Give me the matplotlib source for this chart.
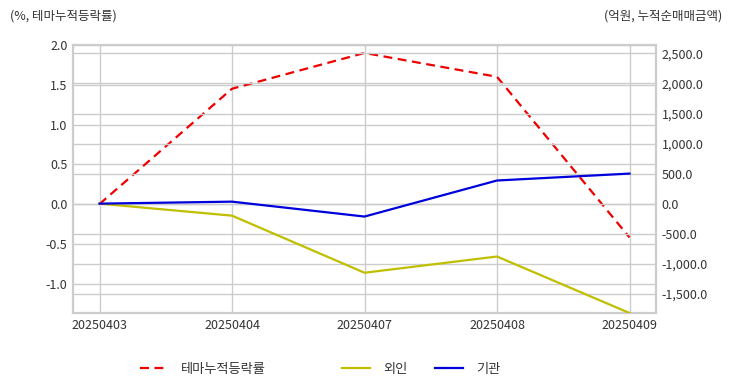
import matplotlib.pyplot as plt
import numpy as np

plt.rcParams['font.family'] = ['Noto Sans CJK KR', 'DejaVu Sans']

dates = ['20250403', '20250404', '20250407', '20250408', '20250409']
theme_pct = [0.0, 1.45, 1.90, 1.60, -0.42]
foreign = [0.0, -200.0, -1150.0, -880.0, -1820.0]
institution = [0.0, 33.0, -215.0, 385.0, 500.0]

left_ticks = [-1.0, -0.5, 0.0, 0.5, 1.0, 1.5, 2.0]
right_ticks = [-1500, -1000, -500, 0, 500, 1000, 1500, 2000, 2500]

grid_c = '#cccccc'
text_c = '#333333'

fig = plt.figure(figsize=(7.32, 3.92), dpi=100)
ax = fig.add_axes([73/732, 1-313/392, (656-73)/732, (313-45)/392])
ax2 = ax.twinx()

x = np.arange(len(dates))
l1, = ax.plot(x, theme_pct, color='#ee0000', lw=1.6, ls=(0, (4, 2.5)), label='테마누적등락률', zorder=3)
l2, = ax2.plot(x, foreign, color='#bfbf00', lw=1.6, label='외인', zorder=3)
l3, = ax2.plot(x, institution, color='#0000dd', lw=1.6, label='기관', zorder=3)

ax.set_xlim(-0.2, 4.2)
ax.set_ylim(-1.37, 2.0)
ax2.set_ylim(-1820, 2640)
ax.set_xticks(x)
ax.set_xticklabels(dates)
ax.set_yticks(left_ticks)
ax.set_yticklabels([f'{v:.1f}' for v in left_ticks])
ax2.set_yticks(right_ticks)
ax2.set_yticklabels([f'{v:,.1f}' for v in right_ticks])

for a in (ax, ax2):
    a.tick_params(length=0, labelsize=9, colors=text_c, pad=4)
    for s in a.spines.values():
        s.set_color(grid_c)
        s.set_linewidth(1.5)

ax.grid(True, color=grid_c, lw=1)
ax2.grid(True, axis='y', color=grid_c, lw=1)
ax.set_axisbelow(True)
ax2.set_axisbelow(True)

fig.text(10/732, 1-16/392, '(%, 테마누적등락률)', fontsize=9, color=text_c, va='center', ha='left')
fig.text(722/732, 1-16/392, '(억원, 누적순매매금액)', fontsize=9, color=text_c, va='center', ha='right')

# legend entries are spaced unevenly in the reference, so one legend each
for h, lx in zip([l1, l2, l3], [140, 342, 435]):
    fig.legend(handles=[h], loc='center left', bbox_to_anchor=(lx/732, 1-369/392),
               frameon=False, fontsize=9.5, handlelength=2.1, handletextpad=1.0,
               borderpad=0, borderaxespad=0, labelcolor=text_c)

fig.savefig('out.png', dpi=100)
